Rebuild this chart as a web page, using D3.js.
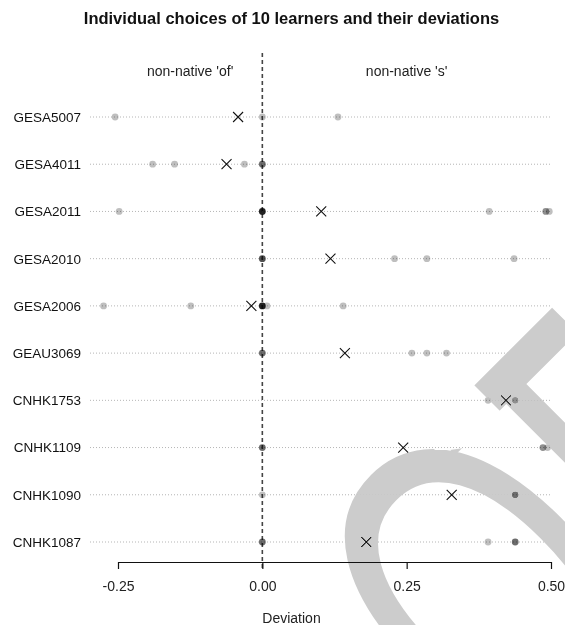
<!DOCTYPE html>
<html>
<head>
<meta charset="utf-8">
<script src="https://cdn.jsdelivr.net/npm/d3@7.8.5/dist/d3.min.js"></script>
<style>
  html, body { margin: 0; padding: 0; background: #fff; }
  #chart { width: 565px; height: 625px; }
  svg { display: block; font-family: "Liberation Sans", Arial, Helvetica, sans-serif; }
</style>
</head>
<body>
<div id="chart"></div>
<script>
const learners = [
  "GESA5007", "GESA4011", "GESA2011", "GESA2010", "GESA2006",
  "GEAU3069", "CNHK1753", "CNHK1109", "CNHK1090", "CNHK1087",
];

// mean deviation per learner (the crosses)
const meanDeviation = [-0.042, -0.062, 0.102, 0.118, -0.019, 0.143, 0.422, 0.244, 0.328, 0.18];

// individual choices per learner and how many choices fall on each value
const choiceValues = [
  [-0.255, 0, 0.131],
  [-0.19, -0.152, -0.031, 0],
  [-0.248, 0, 0.393, 0.491, 0.497],
  [0, 0.229, 0.285, 0.436],
  [-0.275, -0.124, 0, 0.008, 0.14],
  [0, 0.259, 0.285, 0.319],
  [0.391, 0.438],
  [0, 0.486, 0.494],
  [0, 0.438],
  [0, 0.391, 0.438],
];
const choiceCounts = [
  [1, 1, 1],
  [1, 1, 1, 3],
  [1, 7, 1, 2, 1],
  [4, 1, 1, 1],
  [1, 1, 7, 1, 1],
  [3, 1, 1, 1],
  [1, 2],
  [3, 2, 1],
  [1, 3],
  [3, 1, 3],
];

const xTicks = [-0.25, 0, 0.25, 0.5];
const sideLabels = [
  { value: -0.125, text: "non-native 'of'" },
  { value: 0.25, text: "non-native 's'" },
];
const titleText = "Individual choices of 10 learners and their deviations";
const xLabel = "Deviation";
const watermarkLetters = ["O", "T"];

class DeviationChart {
  constructor(container) {
    this.container = container;
    this.width = 565;
    this.height = 625;
    this.margin = { top: 117, right: 14, bottom: 83, left: 118 };
    this.gridLeft = 90;
    this.axisY = 562;
    this.init();
  }

  init() {
    this.setupScales();
    this.createSVG();
    this.drawLabels();
    this.drawGrid();
    this.drawAxis();
    this.drawChoices();
    this.drawMeans();
    this.drawWatermark();
  }

  setupScales() {
    this.xScale = d3
      .scaleLinear()
      .domain([-0.25, 0.5])
      .range([this.margin.left, this.width - this.margin.right]);

    this.yScale = d3
      .scalePoint()
      .domain(learners)
      .range([this.margin.top, this.height - this.margin.bottom]);
  }

  createSVG() {
    this.svg = d3
      .select(this.container)
      .append("svg")
      .attr("width", this.width)
      .attr("height", this.height)
      .attr("viewBox", `0 0 ${this.width} ${this.height}`);
  }

  drawLabels() {
    this.svg
      .append("text")
      .attr("x", 291.5)
      .attr("y", 24)
      .attr("text-anchor", "middle")
      .style("font-size", "16.5px")
      .style("font-weight", "bold")
      .style("fill", "#111")
      .text(titleText);

    this.svg
      .selectAll(".side-label")
      .data(sideLabels)
      .enter()
      .append("text")
      .attr("class", "side-label")
      .attr("x", (d) => this.xScale(d.value))
      .attr("y", 76)
      .attr("text-anchor", "middle")
      .style("font-size", "14px")
      .style("fill", "#222")
      .text((d) => d.text);

    this.svg
      .append("text")
      .attr("x", 291.5)
      .attr("y", 623)
      .attr("text-anchor", "middle")
      .style("font-size", "14px")
      .style("fill", "#222")
      .text(xLabel);
  }

  drawGrid() {
    const rows = this.svg.append("g").attr("class", "rows");

    rows
      .selectAll("line")
      .data(learners)
      .enter()
      .append("line")
      .attr("x1", this.gridLeft)
      .attr("x2", this.xScale(0.5))
      .attr("y1", (d) => this.yScale(d))
      .attr("y2", (d) => this.yScale(d))
      .attr("stroke", "#b5b5b5")
      .attr("stroke-width", 1)
      .attr("stroke-dasharray", "1,2");

    rows
      .selectAll("text")
      .data(learners)
      .enter()
      .append("text")
      .attr("x", 81)
      .attr("y", (d) => this.yScale(d))
      .attr("dy", "0.36em")
      .attr("text-anchor", "end")
      .style("font-size", "13.5px")
      .style("fill", "#111")
      .text((d) => d);

    // zero reference line
    this.svg
      .append("line")
      .attr("x1", this.xScale(0))
      .attr("x2", this.xScale(0))
      .attr("y1", 53)
      .attr("y2", 570)
      .attr("stroke", "#444")
      .attr("stroke-width", 1.6)
      .attr("stroke-dasharray", "4,3");
  }

  drawAxis() {
    this.xAxisGroup = this.svg
      .append("g")
      .attr("class", "x-axis")
      .attr("transform", `translate(0, ${this.axisY})`)
      .call(
        d3
          .axisBottom(this.xScale)
          .tickValues(xTicks)
          .tickSize(7)
          .tickSizeOuter(0)
          .tickPadding(12)
          .tickFormat((d) => d.toFixed(2)),
      );

    this.xAxisGroup.select(".domain").attr("stroke", "#111").attr("stroke-width", 1.2);
    this.xAxisGroup.selectAll(".tick line").attr("stroke", "#111").attr("stroke-width", 1.2);
    this.xAxisGroup
      .selectAll(".tick text")
      .style("font-size", "14px")
      .style("font-family", "'Liberation Sans', Arial, sans-serif")
      .style("fill", "#222");
  }

  drawChoices() {
    const points = [];
    learners.forEach((name, i) => {
      choiceValues[i].forEach((v, j) => {
        points.push({ name, value: v, count: choiceCounts[i][j] });
      });
    });

    this.svg
      .append("g")
      .attr("class", "choices")
      .selectAll("circle")
      .data(points)
      .enter()
      .append("circle")
      .attr("cx", (d) => this.xScale(d.value))
      .attr("cy", (d) => this.yScale(d.name))
      .attr("r", 3.4)
      .attr("fill", "#000")
      .attr("fill-opacity", (d) => 1 - Math.pow(0.75, d.count));
  }

  drawMeans() {
    const s = 5;
    this.svg
      .append("g")
      .attr("class", "means")
      .selectAll("path")
      .data(learners)
      .enter()
      .append("path")
      .attr("transform", (d, i) => `translate(${this.xScale(meanDeviation[i])}, ${this.yScale(d)})`)
      .attr("d", `M${-s},${-s}L${s},${s}M${-s},${s}L${s},${-s}`)
      .attr("stroke", "#111")
      .attr("stroke-width", 1.1)
      .attr("fill", "none");
  }

  drawWatermark() {
    // big rotated letters laid over the plot, darken keeps marks visible
    const size = 470;

    // trim the left arm of the T so it stops where the reference's does
    this.svg
      .append("clipPath")
      .attr("id", "wm-clip")
      .append("path")
      .attr("clip-rule", "evenodd")
      .attr(
        "d",
        `M0,0H${this.width}V${this.height}H0Z M502,413L44.5,-44.5L-7.5,7.5L435,450L450,450L467.5,447.5Z`,
      );

    const mark = this.svg
      .append("g")
      .attr("clip-path", "url(#wm-clip)")
      .style("mix-blend-mode", "darken")
      .append("text")
      .attr("class", "watermark")
      .attr("transform", "translate(484, 588) rotate(-45) scale(0.65, 1)")
      .attr("x", -0.389 * size)
      .attr("y", 0.358 * size)
      .style("font-size", `${size}px`)
      .style("fill", "#cccccc");

    mark.append("tspan").text(watermarkLetters[0]);
    mark.append("tspan").attr("dx", -80).attr("dy", 5).text(watermarkLetters[1]);
  }
}

new DeviationChart(document.getElementById("chart"));
</script>
</body>
</html>
